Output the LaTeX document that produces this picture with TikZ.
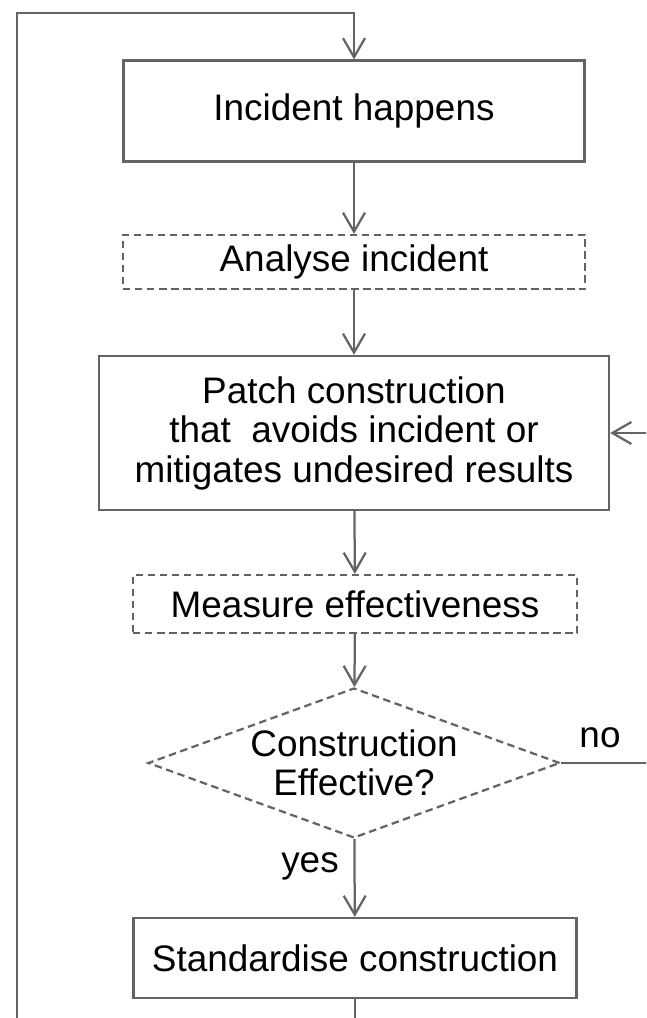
\documentclass[tikz,border=0pt]{standalone}
\usepackage{fontspec}
\setmainfont{Liberation Sans}
\usepackage{tikz}
\usetikzlibrary{arrows.meta}
\usetikzlibrary{shapes.geometric}
\definecolor{linegray}{HTML}{646464}
\begin{document}
\begin{tikzpicture}[x=0.2mm, y=-0.2mm,
  line width=0.45mm,
  flowline/.style={draw=linegray, -{Straight Barb[length=3.8mm,width=4.4mm]}},
  solidbox/.style={draw=linegray, rectangle, inner sep=0pt, align=center,
       font=\fontsize{21}{22.5}\selectfont},
  dashbox/.style={solidbox, dash pattern=on 1.5mm off 0.9mm},
  decision/.style={draw=linegray, diamond, aspect=2.75, inner sep=0pt,
       align=center, dash pattern=on 1.5mm off 0.9mm,
       minimum width=82.4mm, minimum height=30mm,
       font=\fontsize{21}{22.5}\selectfont},
  answer/.style={font=\fontsize{21}{22.5}\selectfont, inner sep=0pt}]

\path[use as bounding box] (0,0) rectangle (646,1018);
\clip (0,0) rectangle (646,1018);

\draw (354,111) node[solidbox, minimum width=92.2mm, minimum height=20.2mm]
  (incident) {Incident happens};
\draw (354,262) node[dashbox, minimum width=92.4mm, minimum height=10.8mm]
  (analyse) {Analyse incident};
\draw (354,433) node[solidbox, minimum width=102mm, minimum height=30.8mm]
  (patch) {Patch construction\\ that\ \ avoids incident or\\ mitigates undesired results};
\draw (355,604) node[dashbox, minimum width=88.8mm, minimum height=11.6mm]
  (measure) {Measure effectiveness};
\draw (354,763) node[decision]
  (effective) {Construction\\ Effective?};
\draw (355,958) node[solidbox, minimum width=88.6mm, minimum height=16mm]
  (standard) {Standardise construction};

\draw (600,738) node[answer] (no) {no};
\draw (310,866) node[answer] (yes) {yes};

\coordinate (loopbottom) at (17,1040);
\coordinate (looptop) at (17,13);
\coordinate (noturn) at (670,763);

\draw[flowline] (incident) -- (analyse);
\draw[flowline] (analyse) -- (patch);
\draw[flowline] (patch) -- (measure);
\draw[flowline] (measure) -- (effective);
\draw[flowline] (effective) -- (standard);
\draw[flowline] (effective.east) -- (noturn) |- (patch.east);
\draw[flowline] (standard.south) |- (loopbottom) -- (looptop) -| (incident.north);
\end{tikzpicture}
\end{document}
